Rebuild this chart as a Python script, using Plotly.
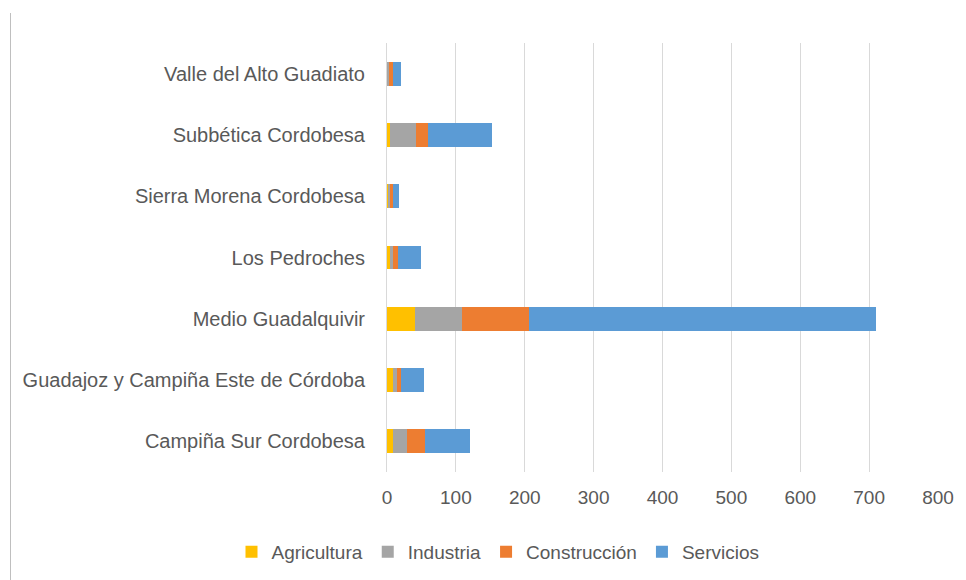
import plotly.graph_objects as go

categories = ["Campiña Sur Cordobesa", "Guadajoz y Campiña Este de Córdoba", "Medio Guadalquivir",
              "Los Pedroches", "Sierra Morena Cordobesa", "Subbética Cordobesa", "Valle del Alto Guadiato"]
agricultura = [9, 9, 40, 4, 1, 5, 0.5]
industria = [20, 5, 69, 5, 4, 37, 2.5]
construccion = [26, 6, 97, 7, 4, 17, 6]
servicios = [65, 33, 504, 34, 9, 93, 11]
series_names = ["Agricultura", "Industria", "Construcción", "Servicios"]
colors = ["#FFC000", "#A5A5A5", "#ED7D31", "#5B9BD5"]
x_ticks = [0, 100, 200, 300, 400, 500, 600, 700, 800]

FONT = "Liberation Sans Narrow, Arial Narrow, Liberation Sans, Arial, sans-serif"
TXT = "#595959"

fig = go.Figure()
for name, vals, col in zip(series_names, [agricultura, industria, construccion, servicios], colors):
    fig.add_trace(go.Bar(y=categories, x=vals, name=name, orientation="h",
                         marker=dict(color=col, line=dict(width=0))))

# page body has an 8px margin, so the figure is drawn 8px right/down
W, H = 958, 572
L, T = 379, 35
PW, PH = 551, 429
R, B = W - L - PW, H - T - PH
fig.update_layout(
    width=W, height=H, barmode="stack", bargap=0.61,
    margin=dict(l=L, r=R, t=T, b=B, autoexpand=False),
    paper_bgcolor="white", plot_bgcolor="white",
    font=dict(family=FONT, size=20, color=TXT),
    xaxis=dict(range=[0, 800], tickvals=x_ticks, showgrid=True, gridcolor="#D9D9D9", gridwidth=1,
               zeroline=False, showline=False, ticks="", ticklabelstandoff=12,
               tickfont=dict(size=19, color=TXT)),
    yaxis=dict(categoryorder="array", categoryarray=categories, showgrid=False, zeroline=False,
               showline=True, linecolor="#D9D9D9", linewidth=1, ticks="", ticklabelstandoff=17,
               tickfont=dict(size=20, color=TXT)),
    legend=dict(orientation="h", x=(490 - L) / PW, xanchor="center", y=-(544 - T - PH) / PH,
                yanchor="middle", font=dict(size=19, color=TXT), traceorder="normal"),
    showlegend=True,
)
x_line = (2.5 - L) / PW
fig.add_shape(type="line", xref="paper", yref="paper", x0=x_line, x1=x_line,
              y0=(T + PH - 5) / PH, y1=-(B + 5) / PH,
              line=dict(color="#BFBFBF", width=1))
fig.write_html("out.html")
